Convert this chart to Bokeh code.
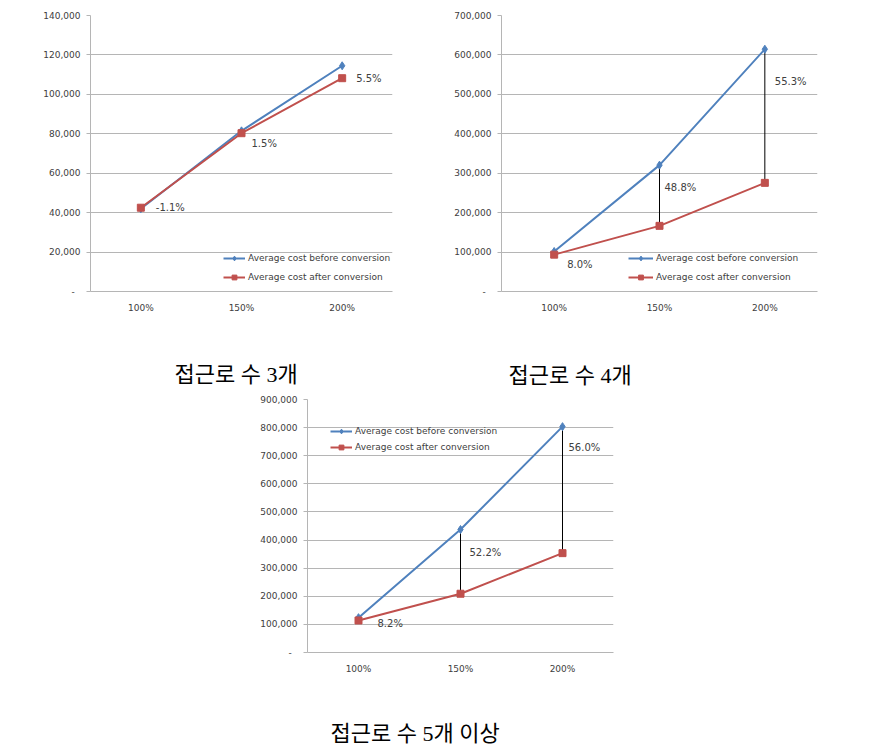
from bokeh.plotting import figure
from bokeh.models import (Legend, LegendItem, Title, Spacer, NumeralTickFormatter,
                          FixedTicker, Range1d, FactorRange)
from bokeh.layouts import row, column
from bokeh.embed import file_html
from bokeh.resources import INLINE
from bokeh.core.properties import value

# ---------------- data ----------------
categories = ["100%", "150%", "200%"]

before_3 = [42000, 81500, 114500]
after_3 = [42500, 80300, 108200]
pct_3 = ["-1.1%", "1.5%", "5.5%"]

before_4 = [101500, 320500, 614500]
after_4 = [93500, 166500, 275500]
pct_4 = ["8.0%", "48.8%", "55.3%"]

before_5 = [124000, 437500, 803500]
after_5 = [114000, 209000, 353500]
pct_5 = ["8.2%", "52.2%", "56.0%"]

y_max = [140000, 700000, 900000]
y_step = [20000, 100000, 100000]
captions = ["접근로 수 3개", "접근로 수 4개", "접근로 수 5개 이상"]
legend_labels = ["Average cost before conversion", "Average cost after conversion"]

# ---------------- style ----------------
BLUE = "#4F81BD"
RED = "#C0504D"
GRID = "#b5b5b5"
TXT = "#404040"
SANS = "DejaVu Sans"
CAP_FONT = "Liberation Serif, Noto Sans CJK KR"


def make_chart(before, after, pct, ymax, ystep, caption, *, width, height,
               bl, br, bt, bb, cap_offset, cap_drop,
               leg_loc, leg_glyph_w, leg_spacing, label_anchor, label_dx, label_dy,
               connectors):
    p = figure(width=width, height=height, x_range=FactorRange(*categories, range_padding=0),
               y_range=Range1d(0, ymax), output_backend="svg", toolbar_location=None,
               min_border_left=bl, min_border_right=br, min_border_top=bt, min_border_bottom=bb)
    p.outline_line_color = None
    p.background_fill_color = "white"
    p.border_fill_color = "white"

    # y axis
    p.yaxis.ticker = FixedTicker(ticks=list(range(0, ymax + 1, ystep)))
    p.yaxis.formatter = NumeralTickFormatter(format="0,0")
    p.yaxis.major_label_overrides = {0: "-  "}
    p.yaxis.axis_line_color = GRID
    p.yaxis.major_tick_line_color = GRID
    p.yaxis.major_tick_out = 4
    p.yaxis.major_tick_in = 0
    p.yaxis.minor_tick_line_color = None
    p.yaxis.major_label_standoff = 6
    p.yaxis.major_label_text_font = SANS
    p.yaxis.major_label_text_font_size = "9px"
    p.yaxis.major_label_text_color = TXT

    # x axis
    p.xaxis.axis_line_color = GRID
    p.xaxis.major_tick_line_color = None
    p.xaxis.major_tick_out = 0
    p.xaxis.major_tick_in = 0
    p.xaxis.major_label_standoff = 11
    p.xaxis.major_label_text_font = SANS
    p.xaxis.major_label_text_font_size = "9px"
    p.xaxis.major_label_text_color = TXT
    # invisible spacer label pushes the caption (title below) downwards
    p.xaxis.axis_label = " "
    p.xaxis.axis_label_text_font_size = "2px"
    p.xaxis.axis_label_standoff = cap_drop

    p.xgrid.grid_line_color = None
    p.ygrid.grid_line_color = GRID
    p.ygrid.grid_line_width = 1

    # connectors
    if connectors:
        p.segment(x0=categories[1:], y0=before[1:], x1=categories[1:], y1=after[1:],
                  line_color="black", line_width=1)

    lb = p.line(categories, before, line_color=BLUE, line_width=2)
    sb = p.scatter(categories, before, marker="diamond", size=8, fill_color=BLUE, line_color=BLUE)
    la = p.line(categories, after, line_color=RED, line_width=2)
    sa = p.scatter(categories, after, marker="square", size=7, fill_color=RED, line_color=RED)

    ys = [after[i] if label_anchor[i] == "a" else before[i] for i in range(3)]
    p.text(x=categories, y=ys, text=pct, x_offset=label_dx, y_offset=label_dy,
           text_font=value(SANS), text_font_size="10px", text_color=TXT,
           text_align="left", text_baseline="middle")

    legend = Legend(items=[LegendItem(label=legend_labels[0], renderers=[lb, sb]),
                           LegendItem(label=legend_labels[1], renderers=[la, sa])],
                    location=leg_loc, padding=0, margin=0, spacing=leg_spacing,
                    glyph_width=leg_glyph_w, glyph_height=12, label_height=12,
                    label_standoff=3, label_text_font=SANS,
                    label_text_font_size="9px", label_text_color=TXT,
                    background_fill_alpha=0, border_line_color=None)
    p.add_layout(legend)

    p.add_layout(Title(text=caption, align="left", offset=cap_offset, standoff=4,
                       text_font=CAP_FONT, text_font_size="22px",
                       text_font_style="normal", text_color="black"), "below")
    return p


p1 = make_chart(before_3, after_3, pct_3, y_max[0], y_step[0], captions[0],
                width=440, height=390, bl=90, br=48, bt=15, bb=98,
                cap_offset=84, cap_drop=37,
                leg_loc=(133, 8), leg_glyph_w=22, leg_spacing=7,
                label_anchor=["a", "a", "a"], label_dx=[15, 10, 14], label_dy=[0, 10, 0],
                connectors=False)

p2 = make_chart(before_4, after_4, pct_4, y_max[1], y_step[1], captions[1],
                width=450, height=390, bl=61, br=73, bt=7, bb=99,
                cap_offset=7, cap_drop=38,
                leg_loc=(127, 8), leg_glyph_w=25, leg_spacing=7,
                label_anchor=["a", "b", "b"], label_dx=[13, 5, 10], label_dy=[10, 22, 32],
                connectors=True)

p3 = make_chart(before_5, after_5, pct_5, y_max[2], y_step[2], captions[2],
                width=413, height=357, bl=57, br=50, bt=9, bb=94,
                cap_offset=23, cap_drop=35,
                leg_loc=(23, 199), leg_glyph_w=22, leg_spacing=4,
                label_anchor=["a", "b", "b"], label_dx=[19, 9, 6], label_dy=[3, 23, 21],
                connectors=True)

layout = column(row(p1, p2), row(Spacer(width=250, height=357), p3))

open("out.html", "w").write(file_html(layout, INLINE))
